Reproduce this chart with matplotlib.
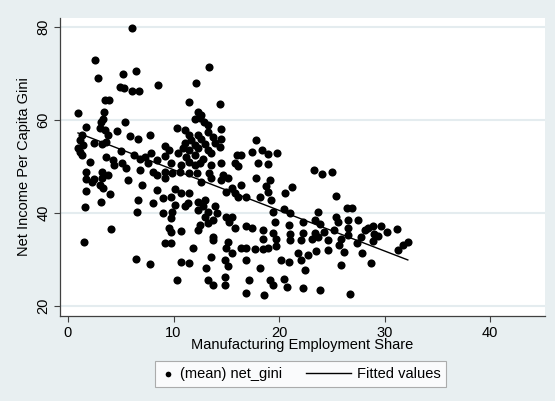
import matplotlib

matplotlib.use("Agg")
import matplotlib.pyplot as plt
from matplotlib.legend_handler import HandlerLine2D

# Stata s2color-ish palette
BG = "#e8eff1"
GRID = "#e4ecef"
INK = "#000000"
AXIS = "#404040"

# (mean) net_gini vs manufacturing employment share
manuf_share = [
    6.1, 2.6, 2.8, 5.2, 6.4, 8.5, 4.9, 5.3, 6.1, 6.7, 3.5, 3.9, 0.95, 3.4, 3.3,
    3.1, 5.4, 1.7, 3.0, 3.5, 4.6, 3.8, 1.3, 5.9, 6.6, 7.8, 1.1, 1.4, 0.95, 2.5,
    3.2, 3.6, 1.3, 1.1, 3.6, 5.0, 6.3, 6.8, 7.3, 7.9, 2.1, 4.3, 5.1, 8.4,
    4.4, 5.5, 6.8, 7.6, 8.1, 8.4, 1.7, 3.2, 3.8, 1.7, 2.3, 2.5, 3.2, 3.0, 5.7,
    3.3, 1.7, 4.0, 7.0, 8.4, 6.6, 3.1, 8.1, 1.6, 6.5, 4.1, 1.5, 6.4, 7.8,
    13.4, 12.1, 11.5, 14.4, 12.3, 12.6, 12.0, 12.5, 12.9, 13.3, 10.3, 11.1,
    14.5, 13.3, 11.5, 12.3, 11.7, 12.6, 13.7, 14.5, 11.1, 12.0, 13.0, 13.9,
    10.9, 11.5, 12.3, 13.3, 14.4, 9.2, 9.6, 9.2, 10.4, 11.2, 12.0, 12.8, 13.6,
    16.0, 16.4,
    17.8, 17.4, 18.4, 19.0, 19.8, 18.0, 19.0,
    9.8, 10.7, 11.5, 12.0, 12.5, 13.6, 14.5, 15.8, 16.1, 9.2, 9.9, 10.6, 11.5,
    12.2, 13.4, 14.7, 9.2, 13.6, 14.5, 15.2, 12.6, 16.4, 15.5, 15.0, 15.8,
    16.1, 16.9, 10.1, 10.7, 11.5, 9.0, 9.8, 12.3, 13.0, 10.1, 11.1, 11.4,
    12.3, 12.8, 13.3, 13.9, 14.1, 9.9, 9.0, 9.8, 13.0, 13.7, 15.0, 15.5, 15.3,
    13.3, 12.5, 12.3, 15.8, 16.9, 9.6, 9.8, 10.7, 13.7, 13.7, 15.2, 9.2, 9.8,
    11.8, 15.0, 15.5, 16.4, 16.9, 13.6, 10.7, 11.5, 14.9, 13.1, 15.2, 16.9,
    14.9, 10.3, 13.3, 13.7, 14.9, 16.9,
    23.3, 24.1, 25.0, 17.8, 19.1, 18.8, 21.2, 19.0, 20.6, 25.4, 18.2, 19.2,
    19.4, 20.5, 21.0, 23.7, 25.4, 19.6, 20.9, 22.3, 23.4, 23.9, 17.4, 18.5,
    19.4, 21.0, 22.3, 23.4, 24.3, 25.2, 18.5, 19.7, 21.0, 22.1, 23.1, 23.7,
    24.6, 17.7, 18.5, 19.0, 19.7, 21.8, 22.7, 23.5, 24.6, 20.2, 20.9, 22.1,
    22.5, 18.2, 17.2, 19.1, 19.4, 20.5, 20.8, 22.3, 23.9, 18.6,
    26.4, 26.9, 25.6, 26.5, 27.5, 26.5, 28.1, 28.4, 28.9, 29.7, 30.2, 31.2,
    26.5, 29.0, 29.4, 27.8, 28.9, 25.9, 25.7, 27.4, 32.2, 31.7, 31.3, 26.2,
    27.9, 28.7, 25.9, 26.7,
]
net_gini = [
    79.7, 72.8, 69.0, 69.8, 70.6, 67.4, 67.0, 66.8, 66.3, 66.3, 64.3, 64.3,
    61.4, 61.6, 60.3, 59.6, 59.6, 58.4, 58.2, 57.8, 57.7, 56.8, 56.8, 56.6,
    55.8, 56.8, 55.7, 54.6, 53.9, 55.1, 54.8, 55.3, 52.5, 53.2, 52.1, 53.4,
    52.5, 51.7, 52.1, 52.8, 51.0, 51.4, 50.7, 51.4,
    50.3, 49.6, 49.2, 50.7, 48.9, 48.2, 48.7, 48.9, 48.2, 47.2, 46.7, 47.2,
    47.5, 46.0, 47.1, 45.3, 44.8, 44.1, 46.0, 44.9, 42.8, 42.4, 42.2, 41.2,
    40.3, 36.6, 33.7, 30.0, 29.0,
    71.3, 68.0, 63.8, 63.4, 61.8, 61.1, 60.1, 60.4, 59.6, 58.9, 58.2, 57.8,
    58.0, 57.5, 56.8, 56.8, 55.7, 56.0, 56.3, 56.0, 55.0, 54.6, 54.8, 55.0,
    53.9, 53.5, 53.9, 53.5, 54.1, 54.3, 53.5, 52.2, 52.8, 52.1, 52.5, 51.7,
    52.8, 52.5, 52.5,
    55.7, 53.2, 53.5, 52.6, 52.8, 50.8, 50.5,
    50.7, 50.3, 51.0, 50.3, 50.7, 50.3, 50.7, 50.7, 50.0, 48.9, 48.5, 48.9,
    48.5, 48.5, 48.5, 48.2, 47.5, 47.5, 47.1, 47.5, 46.7, 46.0, 45.3, 44.6,
    44.2, 43.5, 43.5, 45.1, 44.2, 44.2, 43.2, 43.5, 42.4, 42.8, 41.7, 41.4,
    42.1, 40.6, 41.4, 40.3, 41.4, 39.9, 40.3, 39.9, 38.9, 39.2, 38.5, 39.2,
    39.2, 38.1, 37.8, 37.4, 36.3, 36.7, 37.1, 36.7, 36.0, 36.2, 34.9, 34.2,
    33.8, 33.5, 33.5, 32.4, 32.4, 31.3, 32.4, 32.4, 30.6, 29.5, 29.2, 29.9,
    28.1, 28.5, 29.9, 26.3, 25.6, 25.6, 24.5, 24.5, 22.7,
    49.2, 48.4, 48.7, 47.5, 47.1, 45.7, 45.5, 44.6, 44.2, 43.7, 43.5, 42.8,
    40.3, 40.8, 39.9, 40.3, 39.2, 38.1, 37.4, 38.1, 38.5, 37.6, 36.7, 36.3,
    35.6, 35.5, 35.6, 35.6, 36.0, 36.3, 34.5, 34.5, 34.2, 34.2, 34.5, 34.9,
    34.2, 32.2, 32.2, 32.4, 32.8, 31.3, 31.0, 31.9, 32.0, 29.9, 29.5, 29.9,
    27.7, 28.1, 25.6, 25.6, 24.5, 25.7, 24.0, 23.8, 23.4, 22.4,
    41.1, 41.1, 38.1, 38.5, 38.4, 36.8, 36.3, 36.7, 37.2, 37.2, 36.0, 36.5,
    35.3, 35.5, 35.1, 34.8, 34.0, 34.3, 33.1, 33.5, 33.8, 33.1, 32.0, 31.7,
    31.3, 29.3, 28.8, 22.6,
]

# fitted values line, ends
fit_x = [0.95, 32.2]
fit_y = [57.2, 29.9]

x_ticks = [0, 10, 20, 30, 40]
y_ticks = [20, 40, 60, 80]


class LongLineHandler(HandlerLine2D):
    """Stata draws the legend line key longer than the marker key;
    stretch it leftwards into the column gap."""
    ext = 23  # points

    def create_artists(self, legend, orig_handle, xdescent, ydescent,
                       width, height, fontsize, trans):
        return super().create_artists(legend, orig_handle,
                                      xdescent + self.ext, ydescent,
                                      width + self.ext, height, fontsize,
                                      trans)


plt.rcParams["font.family"] = ["Liberation Sans", "DejaVu Sans"]

fig = plt.figure(figsize=(5.55, 4.01), dpi=100)
fig.patch.set_facecolor(BG)
ax = fig.add_axes([0.108, 0.212, 0.874, 0.743])
ax.set_facecolor("white")

ax.scatter(manuf_share, net_gini, s=34, color=INK, linewidths=0,
           label="(mean) net_gini", zorder=3)
fit_line, = ax.plot(fit_x, fit_y, color=INK, linewidth=1.0,
                    label="Fitted values", zorder=4)

ax.set_xlim(-0.76, 45.2)
ax.set_ylim(17.85, 81.9)
ax.set_xticks(x_ticks)
ax.set_yticks(y_ticks)
ax.set_yticklabels([str(t) for t in y_ticks], rotation=90, va="center")
ax.tick_params(labelsize=10.5, length=4, width=0.8, color=AXIS, pad=3)
ax.grid(axis="y", color=GRID, linewidth=1.5, zorder=0)
ax.set_axisbelow(True)

for side in ("top", "right"):
    ax.spines[side].set_visible(False)
for side in ("left", "bottom"):
    ax.spines[side].set_color(AXIS)
    ax.spines[side].set_linewidth(0.9)

ax.set_xlabel("Manufacturing Employment Share", fontsize=10.5, labelpad=-1)
ax.set_ylabel("Net Income Per Capita Gini", fontsize=10.5, labelpad=4)

leg = fig.legend(loc="center", bbox_to_anchor=(0.542, 0.067), ncol=2,
                 fontsize=10.5, frameon=True, fancybox=False,
                 handlelength=0.9, handletextpad=0.4, columnspacing=3.8,
                 scatterpoints=1, markerscale=0.7, borderpad=0.4,
                 handler_map={fit_line: LongLineHandler()})
leg.get_frame().set_edgecolor("#9a9a9a")
leg.get_frame().set_facecolor("white")
leg.get_frame().set_linewidth(0.8)

fig.savefig("out.png", dpi=100, facecolor=fig.get_facecolor())
